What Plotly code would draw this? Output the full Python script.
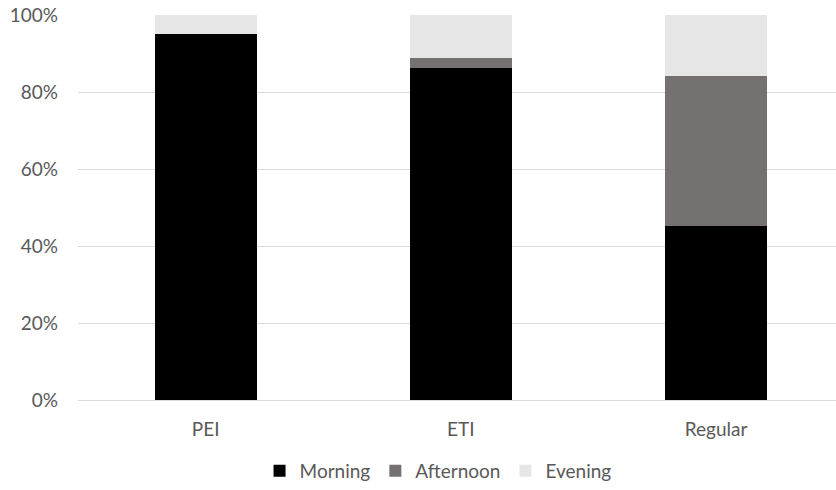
import plotly.graph_objects as go

# Share of sessions by time of day for each programme type
programmes = ["PEI", "ETI", "Regular"]
morning = [0.951, 0.863, 0.453]
afternoon = [0.0, 0.026, 0.389]
evening = [0.049, 0.111, 0.158]

series = [
    ("Morning", morning, "#000000"),
    ("Afternoon", afternoon, "#767171"),
    ("Evening", evening, "#E7E6E6"),
]

font_family = "Lato, 'Open Sans', sans-serif"
text_color = "#595959"
grid_color = "#D9D9D9"
font_size = 19

fig = go.Figure()
for name, values, color in series:
    fig.add_trace(go.Bar(
        name=name,
        x=programmes,
        y=values,
        marker=dict(color=color, line=dict(width=0)),
        width=0.4,
    ))

fig.update_layout(
    barmode="stack",
    width=836,
    height=490,
    margin=dict(l=78, r=0, t=15, b=90),
    paper_bgcolor="white",
    plot_bgcolor="white",
    font=dict(family=font_family, size=font_size, color=text_color),
    showlegend=True,
    legend=dict(
        orientation="h",
        x=0.475,
        xanchor="center",
        y=-0.184,
        yanchor="middle",
        traceorder="normal",
        font=dict(size=font_size, color=text_color),
        itemwidth=30,
        tracegroupgap=0,
    ),
    xaxis=dict(
        range=[-0.5, 2.47],
        showgrid=False,
        showline=False,
        zeroline=False,
        ticks="",
        ticklabelstandoff=16,
        tickfont=dict(size=font_size, color=text_color),
    ),
    yaxis=dict(
        range=[0, 1],
        tickvals=[0, 0.2, 0.4, 0.6, 0.8, 1.0],
        tickformat=".0%",
        showgrid=True,
        gridcolor=grid_color,
        gridwidth=1,
        zeroline=True,
        zerolinecolor=grid_color,
        zerolinewidth=1,
        showline=False,
        ticks="",
        ticklabelstandoff=19,
        tickfont=dict(size=font_size, color=text_color),
    ),
    bargap=0.6,
)

fig.write_html("out.html")
